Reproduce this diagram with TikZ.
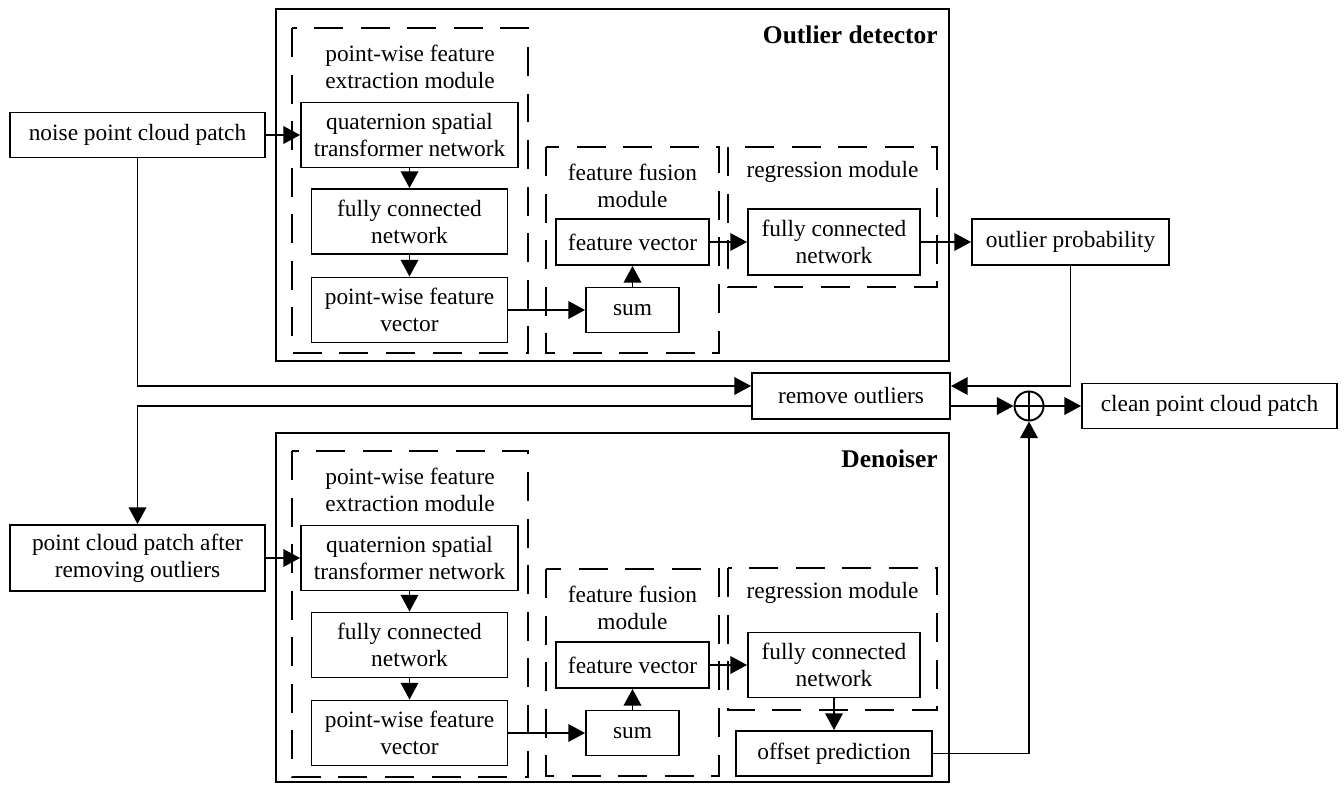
\documentclass[tikz,border=0pt]{standalone}
\usepackage{fontspec}
\setmainfont{Liberation Serif}
\usetikzlibrary{arrows.meta,positioning}

\begin{document}
\begin{tikzpicture}[
    x=0.02cm, y=-0.02cm,
    font=\fontsize{13.3}{15.4}\selectfont,
    box/.style={rectangle, draw, line width=1.1pt, align=center, inner sep=0pt},
    frame/.style={draw, line width=1.5pt},
    module/.style={draw, line width=1pt, dash pattern=on 16.5pt off 10pt},
    title/.style={align=center, inner sep=0pt},
    heading/.style={anchor=east, inner sep=0pt, font=\fontsize{14.5}{17}\selectfont\bfseries},
    arrow/.style={-{Triangle[length=9.5pt,width=10pt]}, line width=1pt}
]
    \useasboundingbox (0,0) rectangle (1344,784);

    % outlier detector
    \draw[frame] (276,9) rectangle (949,361);
    \node[heading] at (938,35) {Outlier detector};
    \node[box, minimum width=5.1cm, minimum height=0.9cm] (noise) at (137.5,135) {noise point cloud patch};
    \draw[module] (292,28) rectangle (528,353);
    \node[title] at (410,66.5) {point-wise feature\\extraction module};
    \node[box, minimum width=4.34cm, minimum height=1.3cm] (q1) at (409.5,135) {quaternion spatial\\transformer network};
    \node[box, minimum width=3.92cm, minimum height=1.3cm] (fc1) at (409.5,221.5) {fully connected\\network};
    \node[box, minimum width=3.92cm, minimum height=1.3cm] (pv1) at (409.5,310) {point-wise feature\\vector};
    \draw[module] (546,147) rectangle (719,353);
    \node[title] at (632.5,185.5) {feature fusion\\module};
    \node[box, minimum width=3.06cm, minimum height=0.92cm] (fv1) at (632.5,242) {feature vector};
    \node[box, minimum width=1.86cm, minimum height=0.9cm] (sum1) at (632.5,310) {sum};
    \draw[module] (728,147) rectangle (937,287);
    \node[title] at (832.5,172) {regression module};
    \node[box, minimum width=3.44cm, minimum height=1.32cm] (reg1) at (834,242) {fully connected\\network};
    \node[box, minimum width=3.94cm, minimum height=0.92cm] (prob) at (1070.5,242) {outlier probability};

    % removal and merge
    \node[box, minimum width=3.96cm, minimum height=0.92cm] (remove) at (851,396) {remove outliers};
    \node[circle, draw, line width=1.1pt, minimum size=0.58cm, inner sep=0pt] (plus) at (1029,406) {};
    \draw[line width=1.1pt] (plus.north) -- (plus.south) (plus.west) -- (plus.east);
    \node[box, minimum width=5.1cm, minimum height=0.9cm] (clean) at (1209.5,406) {clean point cloud patch};

    % denoiser
    \draw[frame] (276,433) rectangle (949,782);
    \node[heading] at (938,459) {Denoiser};
    \node[box, minimum width=5.1cm, minimum height=1.32cm] (after) at (137.5,558) {point cloud patch after\\removing outliers};
    \draw[module] (292,451) rectangle (528,777);
    \node[title] at (410,490) {point-wise feature\\extraction module};
    \node[box, minimum width=4.34cm, minimum height=1.3cm] (q2) at (409.5,558) {quaternion spatial\\transformer network};
    \node[box, minimum width=3.92cm, minimum height=1.3cm] (fc2) at (409.5,645) {fully connected\\network};
    \node[box, minimum width=3.92cm, minimum height=1.3cm] (pv2) at (409.5,733) {point-wise feature\\vector};
    \draw[module] (546,569) rectangle (719,776);
    \node[title] at (632.5,608) {feature fusion\\module};
    \node[box, minimum width=3.06cm, minimum height=0.92cm] (fv2) at (632.5,665) {feature vector};
    \node[box, minimum width=1.86cm, minimum height=0.9cm] (sum2) at (632.5,733) {sum};
    \draw[module] (728,568) rectangle (937,710);
    \node[title] at (832.5,593) {regression module};
    \node[box, minimum width=3.44cm, minimum height=1.3cm] (reg2) at (834,665) {fully connected\\network};
    \node[box, minimum width=3.92cm, minimum height=0.9cm] (offset) at (834,753.5) {offset prediction};

    % connectors
    \draw[arrow] (noise) -- (q1);
    \draw[arrow] (q1) -- (fc1);
    \draw[arrow] (fc1) -- (pv1);
    \draw[arrow] (pv1) -- (sum1);
    \draw[arrow] (sum1) -- (fv1);
    \draw[arrow] (fv1) -- (reg1);
    \draw[arrow] (reg1) -- (prob);
    \draw[arrow] (prob.south) |- ([yshift=0.2cm]remove.east);
    \draw[arrow] (noise.south) |- ([yshift=0.2cm]remove.west);
    \draw[arrow] ([yshift=-0.2cm]remove.west) -| (after.north);
    \draw[arrow] ([yshift=-0.2cm]remove.east) -- (plus);
    \draw[arrow] (plus) -- (clean);
    \draw[arrow] (after) -- (q2);
    \draw[arrow] (q2) -- (fc2);
    \draw[arrow] (fc2) -- (pv2);
    \draw[arrow] (pv2) -- (sum2);
    \draw[arrow] (sum2) -- (fv2);
    \draw[arrow] (fv2) -- (reg2);
    \draw[arrow] (reg2) -- (offset);
    \draw[arrow] (offset) -| (plus);
\end{tikzpicture}
\end{document}
